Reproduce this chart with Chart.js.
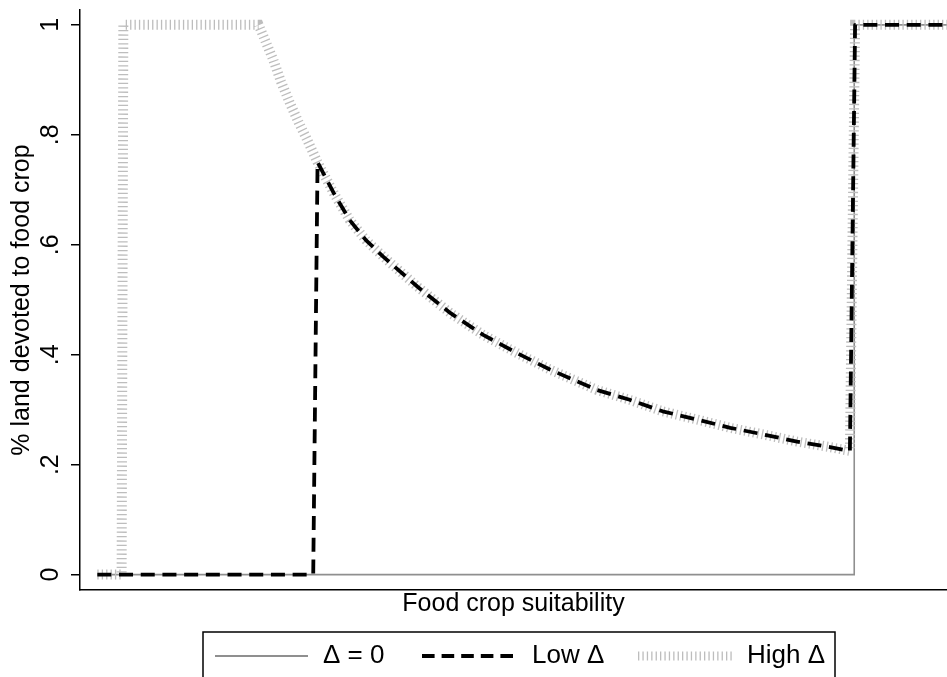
<!DOCTYPE html>
<html>
<head>
<meta charset="utf-8">
<script src="https://cdn.jsdelivr.net/npm/chart.js@4.4.0/dist/chart.umd.min.js"></script>
<style>
  html, body { margin: 0; padding: 0; background: #fff; }
  canvas { display: block; }
</style>
</head>
<body>
<canvas id="chart" width="947" height="677"></canvas>
<script>
// y axis ticks
const yTicks = [0, 0.2, 0.4, 0.6, 0.8, 1]
const yTickLabels = ['0', '.2', '.4', '.6', '.8', '1']

// decreasing part shared by Low and High
const curveX = [27.4, 29.3, 31.1, 33.0, 35.0, 38.9, 42.7, 46.5, 50.4, 54.2, 59.6, 63.4, 67.2, 71.2, 75.0, 78.8, 82.7, 86.5, 88.8]
const curveY = [0.75, 0.693, 0.645, 0.608, 0.578, 0.524, 0.476, 0.436, 0.403, 0.373, 0.336, 0.318, 0.297, 0.282, 0.267, 0.255, 0.242, 0.232, 0.225]

// delta = 0
const zeroX = [2, 89.3, 89.3, 100]
const zeroY = [0, 0, 1, 1]

// low delta
const lowHeadX = [2, 26.9]
const lowHeadY = [0, 0]
const lowTailX = [89.4, 100]
const lowTailY = [1, 1]

// high delta
const highHeadX = [2, 4.8, 5.0, 20.6, 21.4, 22.3, 23.2, 24.2, 25.2, 26.2]
const highHeadY = [0, 0, 1, 1, 0.97, 0.936, 0.896, 0.858, 0.823, 0.791]
const highTailX = [89.4, 100]
const highTailY = [1, 1]

const legendLabels = ['\u0394 = 0', 'Low \u0394', 'High \u0394']

const FONT = '"Liberation Sans", Arial, Helvetica, sans-serif'

const toPoints = (xs, ys) => xs.map((x, i) => ({ x: x, y: ys[i] }))

const zeroData = toPoints(zeroX, zeroY)
const lowData = toPoints(lowHeadX.concat(curveX, lowTailX), lowHeadY.concat(curveY, lowTailY))
const highData = toPoints(highHeadX.concat(curveX, highTailX), highHeadY.concat(curveY, highTailY))

// legend drawn in a box under the axis title
const boxLegend = {
    id: 'boxLegend',
    afterDraw(chart) {
        const ctx = chart.ctx
        ctx.save()
        ctx.strokeStyle = '#000'
        ctx.lineWidth = 1.5
        ctx.strokeRect(203, 632, 632, 70)
        const spots = [[215, 308, 323], [422, 513, 532], [638, 732, 747]]
        const yMid = 656
        chart.data.datasets.forEach((ds, i) => {
            const [x0, x1, tx] = spots[i]
            ctx.beginPath()
            ctx.setLineDash(ds.legendDash || ds.borderDash || [])
            ctx.lineWidth = ds.legendWidth || ds.borderWidth
            ctx.strokeStyle = ds.borderColor
            ctx.moveTo(x0, yMid)
            ctx.lineTo(x1, yMid)
            ctx.stroke()
            ctx.setLineDash([])
            ctx.fillStyle = '#000'
            ctx.font = '26px ' + FONT
            ctx.textBaseline = 'middle'
            ctx.textAlign = 'left'
            ctx.fillText(legendLabels[i], tx, yMid)
        })
        ctx.restore()
    }
}

new Chart(document.getElementById('chart'), {
    type: 'line',
    data: {
        datasets: [
            {
                label: legendLabels[0],
                data: zeroData,
                borderColor: '#8f8f8f',
                borderWidth: 1.6,
                legendWidth: 2.2,
                pointRadius: 0,
                order: 2
            },
            {
                label: legendLabels[1],
                data: lowData,
                borderColor: '#000',
                borderWidth: 3.8,
                borderDash: [14, 7.7],
                legendDash: [12.6, 7],
                borderJoinStyle: 'round',
                pointRadius: 0,
                order: 0
            },
            {
                label: legendLabels[2],
                data: highData,
                borderColor: '#bdbdbd',
                borderWidth: 10,
                borderDash: [1.3, 3.1],
                legendWidth: 9,
                pointRadius: 0,
                order: 1
            }
        ]
    },
    options: {
        responsive: false,
        animation: false,
        devicePixelRatio: 1,
        layout: { padding: { left: 0, top: 10, right: 0, bottom: 0 } },
        plugins: {
            legend: { display: false },
            tooltip: { enabled: false }
        },
        scales: {
            x: {
                type: 'linear',
                min: 0,
                max: 100,
                bounds: 'data',
                afterFit: s => { s.height = 87; s.paddingLeft = 0; s.paddingRight = 0 },
                grid: { display: false },
                ticks: { display: false },
                border: { display: true, color: '#000', width: 1.5 },
                title: {
                    display: true,
                    text: 'Food crop suitability',
                    color: '#000',
                    font: { family: FONT, size: 25 },
                    padding: { top: 0, bottom: 58 }
                }
            },
            y: {
                type: 'linear',
                min: -0.028,
                max: 1.027,
                bounds: 'data',
                afterBuildTicks: s => { s.ticks = yTicks.map(v => ({ value: v })) },
                afterFit: s => { s.width = 80; s.paddingTop = 0; s.paddingBottom = 0 },
                grid: {
                    display: true,
                    drawOnChartArea: false,
                    drawTicks: true,
                    tickLength: 9,
                    lineWidth: 1.5,
                    color: '#000'
                },
                border: { display: true, color: '#000', width: 1.5 },
                ticks: {
                    minRotation: 90,
                    maxRotation: 90,
                    crossAlign: 'center',
                    padding: 9,
                    color: '#000',
                    font: { family: FONT, size: 25 },
                    callback: (v, i) => yTickLabels[i]
                },
                title: {
                    display: true,
                    text: '% land devoted to food crop',
                    color: '#000',
                    font: { family: FONT, size: 25 },
                    padding: { top: 7, bottom: 0 }
                }
            }
        }
    },
    plugins: [boxLegend]
})
</script>
</body>
</html>
